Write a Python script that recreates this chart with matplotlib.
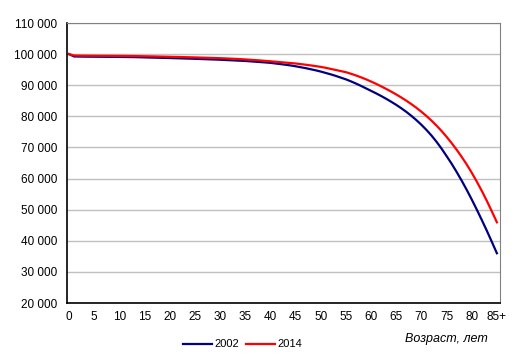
import matplotlib
matplotlib.use("Agg")
import matplotlib.pyplot as plt
from matplotlib.ticker import FuncFormatter

plt.rcParams['font.family'] = ['Liberation Sans', 'DejaVu Sans']

ages = list(range(86))
tick_labels = [str(a) if a < 85 else '85+' for a in range(0, 86, 5)]

# survivors out of 100 000 born, by age
surv_2002 = [
    100000, 99250, 99220, 99200, 99180, 99170, 99160, 99150, 99130, 99120,
    99100, 99080, 99060, 99040, 99000, 98950, 98910, 98870, 98830, 98790,
    98750, 98700, 98650, 98600, 98550, 98500, 98440, 98380, 98320, 98260,
    98200, 98120, 98040, 97960, 97880, 97800, 97690, 97570, 97450, 97330,
    97200, 97000, 96800, 96590, 96370, 96100, 95800, 95500, 95150, 94800,
    94400, 93950, 93500, 93000, 92450, 91900, 91250, 90550, 89800, 89000,
    88200, 87400, 86550, 85650, 84700, 83700, 82620, 81450, 80180, 78800,
    77300, 75650, 73850, 71850, 69650, 67250, 64800, 62150, 59350, 56400,
    53300, 50050, 46700, 43250, 39650, 36000,
]
surv_2014 = [
    100000, 99550, 99520, 99500, 99490, 99480, 99470, 99460, 99450, 99440,
    99430, 99420, 99400, 99380, 99350, 99320, 99290, 99260, 99220, 99190,
    99150, 99110, 99070, 99030, 98990, 98950, 98900, 98850, 98800, 98750,
    98700, 98630, 98560, 98480, 98400, 98300, 98190, 98080, 97960, 97830,
    97700, 97560, 97420, 97280, 97140, 97000, 96800, 96600, 96380, 96150,
    95900, 95600, 95250, 94900, 94550, 94200, 93700, 93150, 92550, 91900,
    91200, 90450, 89660, 88830, 87960, 87040, 86070, 85040, 83940, 82760,
    81490, 80120, 78640, 77040, 75310, 73440, 71430, 69280, 66990, 64560,
    61900, 59050, 56050, 52850, 49450, 45950,
]

fig = plt.figure(figsize=(5.16, 3.58), dpi=100)
ax = fig.add_axes([0.1298, 0.1536, 0.839, 0.7821])

ax.plot(ages, surv_2002, color='#000080', lw=1.6, label='2002')
ax.plot(ages, surv_2014, color='#ff0000', lw=1.6, label='2014')

ax.set_xlim(-0.4, 85.6)
ax.set_ylim(20000, 110000)
ax.set_yticks(range(20000, 110001, 10000))
ax.yaxis.set_major_formatter(FuncFormatter(lambda v, p: f'{int(v):,}'.replace(',', ' ')))
ax.set_xticks(range(0, 86, 5))
ax.set_xticklabels(tick_labels)
ax.tick_params(length=0, labelsize=8.5, colors='black')
ax.tick_params(axis='y', pad=7)
ax.tick_params(axis='x', pad=6)

ax.grid(axis='y', color='#c0c0c0', lw=1)
ax.set_axisbelow(True)
for s in ['top', 'right']:
    ax.spines[s].set_color('#808080')
for s in ['left', 'bottom']:
    ax.spines[s].set_color('black')
    ax.spines[s].set_linewidth(1.2)

fig.text(0.866, 0.053, 'Возраст, лет', style='italic', fontsize=9, ha='center', va='center')
fig.legend(loc='center', bbox_to_anchor=(0.47, 0.038), ncol=2, frameon=False,
           fontsize=8, handlelength=2.6, handletextpad=0.2, columnspacing=0.6)

fig.savefig('out.png', dpi=100)
